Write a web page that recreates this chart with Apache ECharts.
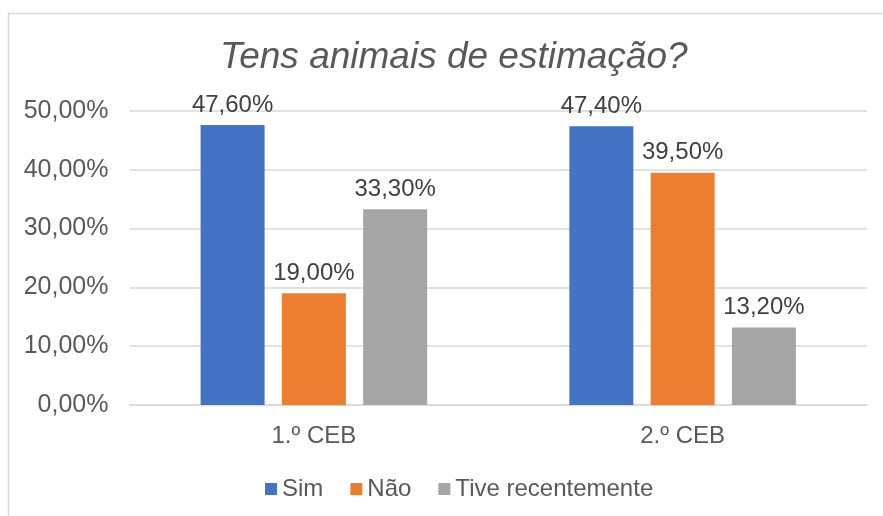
<!DOCTYPE html>
<html>
<head>
<meta charset="utf-8">
<script src="https://cdn.jsdelivr.net/npm/echarts@6/dist/echarts.min.js"></script>
<style>
  html, body { margin: 0; padding: 0; background: #fff; }
  #chart { width: 883px; height: 516px; }
</style>
</head>
<body>
<div id="chart"></div>
<script>
// dados
const categories = ['1.º CEB', '2.º CEB']
const seriesNames = ['Sim', 'Não', 'Tive recentemente']
const sim = [47.6, 47.4]
const nao = [19.0, 39.5]
const tive = [33.3, 13.2]
const colors = ['#4472C4', '#ED7D31', '#A5A5A5']

const fmt = v => v.toFixed(2).replace('.', ',') + '%'
const font = 'Liberation Sans, Arial, sans-serif'

const chart = echarts.init(document.getElementById('chart'))

const mkSeries = (name, data, i) => ({
  name,
  type: 'bar',
  data,
  barWidth: 64,
  barGap: '27%',
  itemStyle: { color: colors[i] },
  label: {
    show: true,
    position: 'top',
    distance: 8,
    formatter: p => fmt(p.value),
    color: '#404040',
    fontSize: 24,
    fontFamily: font
  }
})

chart.setOption({
  animation: false,
  title: {
    text: 'Tens animais de estimação?',
    left: 215,
    top: 34,
    textStyle: {
      fontSize: 37,
      fontStyle: 'italic',
      fontWeight: 'normal',
      color: '#595959',
      fontFamily: font
    }
  },
  graphic: [{
    type: 'rect',
    shape: { x: 8.5, y: 13.5, width: 900, height: 600 },
    style: { fill: 'none', stroke: '#D9D9D9', lineWidth: 1.5 },
    silent: true
  }],
  legend: {
    data: seriesNames,
    top: 472,
    left: 260,
    icon: 'rect',
    itemWidth: 12,
    itemHeight: 12,
    itemGap: 27,
    textStyle: { fontSize: 24, color: '#595959', fontFamily: font }
  },
  grid: { left: 129.5, right: 16, top: 111, bottom: 111 },
  xAxis: {
    type: 'category',
    data: categories,
    axisLine: { lineStyle: { color: '#D9D9D9', width: 1.5 } },
    axisTick: { show: false },
    axisLabel: { fontSize: 24, color: '#595959', fontFamily: font, margin: 19 }
  },
  yAxis: {
    type: 'value',
    min: 0,
    max: 50,
    interval: 10,
    axisLine: { show: false },
    axisTick: { show: false },
    splitLine: { lineStyle: { color: '#D9D9D9', width: 1.5 } },
    axisLabel: { formatter: fmt, fontSize: 25, color: '#595959', fontFamily: font, margin: 21 }
  },
  series: [
    mkSeries(seriesNames[0], sim, 0),
    mkSeries(seriesNames[1], nao, 1),
    mkSeries(seriesNames[2], tive, 2)
  ]
})
</script>
</body>
</html>
